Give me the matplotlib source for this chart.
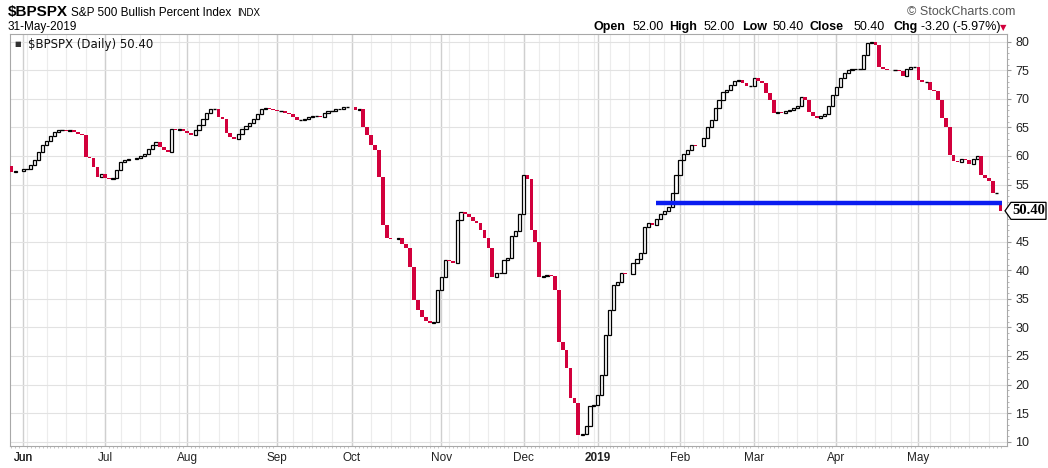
import matplotlib

matplotlib.use("Agg")
import matplotlib.pyplot as plt
import numpy as np
import pandas as pd
from matplotlib.patches import Polygon

# --- data (daily closes, $BPSPX) --------------------------------------------
MAY18 = [57.2, 57.4, 57.3]
JUN18 = [57.7, 57.8, 58.4, 59.3, 60.7, 61.9, 62.7, 63.5, 64.2, 64.6, 64.6,
         64.4, 64.5, 64.2, 63.9, 63.6, 59.8, 59.6, 58.0, 56.3, 56.8]
JUL18 = [56.1, 56.0, 56.2, 57.5, 59.0, 59.3, 59.5, 59.4, 59.7, 60.0, 60.3,
         61.3, 62.0, 62.5, 61.5, 61.0, 60.7, 64.8, 64.6, 64.8, 64.3]
AUG18 = [64.0, 63.6, 64.5, 65.5, 66.5, 67.5, 68.2, 68.2, 66.8, 66.5, 64.0,
         63.3, 63.0, 63.8, 64.8, 65.3, 65.8, 66.5, 67.3, 68.3, 68.4, 68.2, 68.0]
SEP18 = [67.8, 67.8, 67.5, 67.3, 66.8, 66.3, 66.3, 66.5, 66.8, 67.0, 67.0,
         66.8, 67.5, 67.8, 67.8, 68.2, 68.3, 68.6, 68.6]
OCT18 = [68.5, 68.0, 68.2, 65.1, 63.7, 61.9, 61.0, 56.3, 47.9, 45.6, 45.5,
         45.4, 45.6, 44.6, 43.9, 40.6, 34.8, 33.0, 31.8, 31.2, 30.7, 30.9, 36.5]
NOV18 = [38.8, 41.8, 41.6, 41.2, 48.8, 50.2, 49.8, 49.3, 48.7, 48.2, 47.1,
         45.6, 43.9, 38.8, 39.5, 39.6, 41.8, 42.1, 46.0, 46.9, 49.8]
DEC18 = [56.7, 55.9, 47.0, 45.0, 38.8, 39.0, 39.2, 39.0, 36.5, 27.4, 26.0,
         22.9, 17.6, 16.8, 11.2, 11.3, 12.7, 16.2, 16.4]
JAN19 = [18.2, 21.6, 28.6, 33.0, 37.4, 38.0, 39.6, 39.4, 39.3, 41.2, 42.0,
         43.0, 47.6, 48.2, 47.9, 49.0, 49.9, 50.4, 51.0, 53.5, 56.7]
FEB19 = [59.3, 60.3, 61.0, 61.9, 61.8, 61.7, 63.1, 65.0, 66.3, 68.4, 69.8,
         71.2, 71.5, 72.4, 73.1, 73.3, 72.8, 72.3, 72.3]
MAR19 = [73.6, 73.2, 72.8, 71.0, 69.8, 67.5, 67.7, 67.6, 67.8, 68.0, 68.4,
         68.8, 70.3, 69.8, 67.7, 67.0, 66.6, 67.0, 67.4, 68.8, 70.6]
APR19 = [72.0, 73.6, 74.5, 75.0, 75.2, 75.3, 75.3, 77.7, 79.8, 80.0, 79.5,
         75.5, 75.3, 75.1, 75.0, 75.0, 74.9, 74.0, 75.3, 75.6, 75.6]
MAY19 = [73.3, 73.0, 73.0, 71.5, 71.3, 69.8, 66.6, 65.0, 60.1, 59.2, 59.0,
         59.5, 59.3, 58.6, 59.5, 60.0, 56.7, 56.2, 55.6, 53.6, 53.6, 50.4]

FIRST_OPEN = 58.3
LAST_OPEN = 52.00
SUPPORT_LEVEL = 51.8
SUPPORT_FROM = "2019-01-24"

HOLIDAYS = ["2018-07-04", "2018-09-03", "2018-11-22", "2018-12-05", "2018-12-25",
            "2019-01-01", "2019-01-21", "2019-02-18", "2019-04-19", "2019-05-27"]

HEADER = [("Open", True, 594), ("52.00", False, 633), ("High", True, 669),
          ("52.00", False, 704), ("Low", True, 742), ("50.40", False, 773),
          ("Close", True, 810), ("50.40", False, 854), ("Chg", True, 894),
          ("-3.20 (-5.97%)", False, 921)]

closes = np.array(MAY18 + JUN18 + JUL18 + AUG18 + SEP18 + OCT18 + NOV18 + DEC18
                  + JAN19 + FEB19 + MAR19 + APR19 + MAY19)
dates = pd.bdate_range("2018-05-29", "2019-05-31", freq="C", holidays=HOLIDAYS)
n = min(len(dates), len(closes))
dates, closes = dates[:n], closes[:n]
opens = np.r_[FIRST_OPEN, closes[:-1]]
opens[-1] = LAST_OPEN
x = np.arange(n)

W, H = 1048, 468
RED = "#d2003c"
plt.rcParams["font.family"] = ["Liberation Sans", "DejaVu Sans"]

fig = plt.figure(figsize=(W / 100, H / 100), dpi=100)
L, R, T, B = 10, 1007, 34, 446
ax = fig.add_axes([L / W, 1 - B / H, (R - L) / W, (B - T) / H])

# grid: weekly light, monthly darker, horizontal every 5
week_start = dates.to_series().dt.to_period("W").values
wk = [i for i in range(1, n) if week_start[i] != week_start[i - 1]]
mo = [i for i in range(1, n) if dates[i].month != dates[i - 1].month]
for i in wk:
    ax.axvline(i, color="#ececec", lw=0.8, zorder=0)
for i in mo:
    ax.axvline(i, color="#cfcfcf", lw=1.0, zorder=0)
for v in range(10, 85, 5):
    ax.axhline(v, color="#e2e2e2", lw=0.8, zorder=0)

# candles: hollow black = up, filled red = down
up = closes > opens
dn = closes < opens
fl = closes == opens
ax.bar(x[up], (closes - opens)[up], bottom=opens[up], width=0.8,
       facecolor="white", edgecolor="black", linewidth=0.9, zorder=3)
ax.bar(x[dn], (opens - closes)[dn], bottom=closes[dn], width=0.95,
       color=RED, linewidth=0, zorder=3)
ax.hlines(closes[fl], x[fl] - 0.45, x[fl] + 0.45, color="black", lw=1.0, zorder=3)

# support line
i0 = int(np.searchsorted(dates, pd.Timestamp(SUPPORT_FROM)))
ax.plot([i0, n - 0.6], [SUPPORT_LEVEL, SUPPORT_LEVEL], color="#0a1cf0", lw=3.2,
        solid_capstyle="butt", zorder=4)

ax.set_xlim(-0.35, n + 0.65)
ax.set_ylim(9.25, 81.35)

# axes styling
for s in ax.spines.values():
    s.set_color("#a8a8a8")
    s.set_linewidth(0.8)
ax.yaxis.tick_right()
yt = list(range(10, 85, 5))
ax.set_yticks(yt)
# the "50" label sits under the last-value tag, as on the original
ax.set_yticklabels(["" if v == 50 else str(v) for v in yt])
ax.set_yticks(range(10, 81), minor=True)
ax.tick_params(axis="y", which="major", length=3, color="#999999", labelsize=9,
               labelcolor="#222222", pad=3)
ax.tick_params(axis="y", which="minor", length=1.5, color="#aaaaaa")

mpos = [3] + mo
mlabels = ["2019" if dates[i].month == 1 else dates[i].strftime("%b") for i in mpos]
ax.set_xticks(mpos)
ax.set_xticklabels(mlabels)
for lab in ax.get_xticklabels():
    if lab.get_text() == "2019":
        lab.set_fontweight("bold")
        lab.set_fontsize(10)
ax.set_xticks(x, minor=True)
ax.tick_params(axis="x", which="major", length=0, labelsize=8.5,
               labelcolor="#222222", pad=4)
ax.tick_params(axis="x", which="minor", length=1.5, color="#bbbbbb")

# last-value tag with arrow
yd = ax.transData.transform((0, closes[-1]))[1]
yp = H - yd
tag = [(1005, yp), (1011, yp - 8.5), (1046, yp - 8.5), (1046, yp + 8.5),
       (1011, yp + 8.5)]
fig.patches.append(Polygon([(a / W, 1 - b / H) for a, b in tag], closed=True,
                           transform=fig.transFigure, fc="white", ec="black", lw=0.9))
fig.text(1028.5 / W, 1 - yp / H, f"{closes[-1]:.2f}", ha="center", va="center",
         fontsize=10.5, fontweight="bold", family="Liberation Serif")

# in-plot legend
ax.text(0.004, 0.975, "\u25a0", transform=ax.transAxes, fontsize=5, color="#333333",
        va="center", family="DejaVu Sans")
ax.text(0.018, 0.975, "$BPSPX (Daily) 50.40", transform=ax.transAxes, fontsize=8.5,
        va="center", color="#111111", family="DejaVu Sans")


def px(xp, ypx):
    return xp / W, 1 - ypx / H


fig.text(*px(8, 12), "$BPSPX", fontsize=11, fontweight="bold", va="center")
fig.text(*px(71, 12.5), "S&P 500 Bullish Percent Index", fontsize=8.5, va="center")
fig.text(*px(237, 13), "INDX", fontsize=7, va="center")
fig.text(*px(8, 27), "31-May-2019", fontsize=8.5, va="center")
fig.text(*px(1015, 12), "\u00a9 StockCharts.com", fontsize=9, ha="right",
         va="center", color="#555555")
for s, bold, xp in HEADER:
    fig.text(*px(xp, 27), s, fontsize=9, fontweight="bold" if bold else "normal",
             va="center")
fig.text(*px(1000, 28), "\u25bc", fontsize=6, color=RED, va="center",
         family="DejaVu Sans")

fig.savefig("out.png", dpi=100)
